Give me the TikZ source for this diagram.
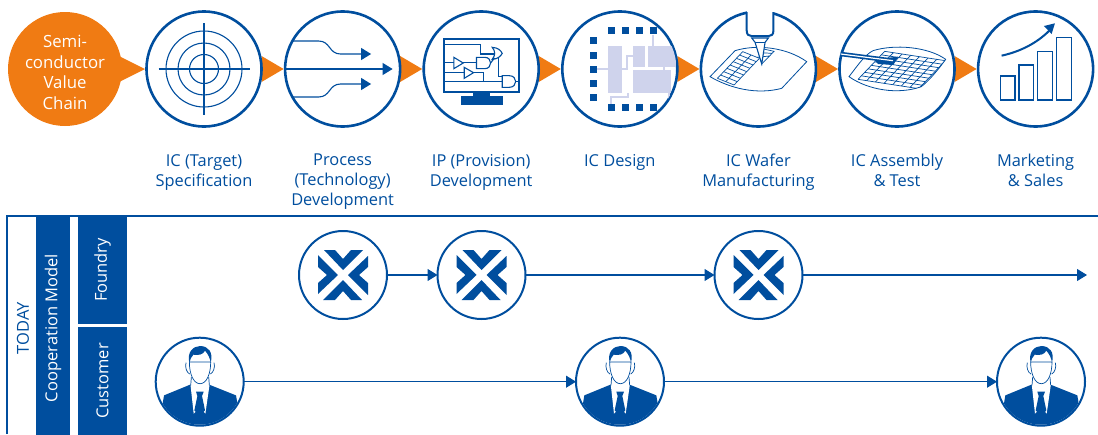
\documentclass[tikz,border=0pt]{standalone}
\usepackage{fontspec}
\setmainfont{Open Sans}
\usetikzlibrary{arrows.meta, backgrounds, positioning}
\definecolor{chainblue}{HTML}{004E9E}
\definecolor{chainorange}{HTML}{F07B13}
\definecolor{chiplight}{HTML}{CFD3EC}
\tikzset{
    stage/.style = {
      circle, draw=chainblue, line width=2.6pt, fill=white, inner sep=0, outer sep=0,
      minimum size=115pt,
    },
    role/.style = {
      circle, draw=chainblue, line width=2pt, fill=white, inner sep=0, outer sep=0,
      minimum size=88pt,
    },
    chevron/.style = {fill=chainorange},
    stage label/.style = {
      text=chainblue, font=\fontsize{16.4}{20}\selectfont, align=center, inner sep=0,
      anchor=north, below=27.5pt,
    },
    band/.style = {
      fill=chainblue, text=white, rotate=90, inner sep=0, outer sep=0,
      font=\fontsize{16.5}{20}\selectfont,
    },
    flow/.style = {line width=1.1pt, draw=chainblue, arrows={-Triangle[length=10pt, width=12pt]}},
    icon line/.style = {line width=1.1pt, draw=chainblue},
    icon fill/.style = {fill=chainblue},
    wafer cell/.style = {line width=.7pt, draw=chainblue},
}
\newcommand{\drawfoundrylogo}[1]{%
  %% Four chevrons pointing at the centre of the node
  \begin{scope}[shift={(#1.center)}]
    \foreach \a in {0,90,180,270}{%
      \fill [icon fill, rotate=\a] (-19,-25) -- (-8,-25) -- (0,-16) -- (8,-25)
        -- (20,-25) -- (0,-5) -- cycle;
    }
  \end{scope}
}
\newcommand{\drawperson}[1]{%
  %% Man in a suit, coordinates taken at three times the size
  \begin{scope}[shift={(#1.center)}, scale=1/3, shift={(-149,-149)}]
    \clip (149,149) circle (129);
    \fill [icon fill] (42,190) -- (120,158) -- (178,158) -- (258,190) -- (275,290) -- (25,290) -- cycle;
    \fill [white] (121,155) -- (131,245) -- (150,225) -- (166,245) -- (179,155) -- cycle;
    \fill [icon fill] (138,179) -- (161,179) -- (156,192) -- (165,235) -- (149,252)
      -- (133,235) -- (142,192) -- cycle;
    \draw [icon line, line width=.7pt] (108,92) .. controls (104,105) and (110,122) .. (119,126);
    \draw [icon line, line width=.7pt] (192,92) .. controls (196,105) and (190,122) .. (181,126);
    \draw [icon line, line width=.7pt] (124,135) -- (122,160) (176,135) -- (178,160);
    \draw [icon line, line width=.7pt, fill=white] (118,90) .. controls (118,125) and (130,155) .. (150,155)
      .. controls (170,155) and (182,125) .. (182,90) -- cycle;
    \fill [icon fill] (118,92) .. controls (110,60) and (130,42) .. (150,42)
      .. controls (175,42) and (190,60) .. (182,92) .. controls (180,78) and (174,66) .. (165,56)
      .. controls (158,68) and (148,70) .. (130,68) .. controls (124,74) and (120,82) .. (118,92) -- cycle;
  \end{scope}
}

\begin{document}
\begin{tikzpicture}[x=1pt, y=-1pt]
    \useasboundingbox (0,0) rectangle (1098,434);

    %% The value chain
    \node [circle, fill=chainorange, minimum size=114pt, inner sep=0, outer sep=0] (chain) at (65,69) {};
    \node [text=white, align=center, inner sep=0, font=\fontsize{16.8}{20.5}\selectfont] (chain text)
          at ([yshift=-3.5pt] chain.center) {Semi-\\conductor\\Value\\Chain};
    \node [stage] (spec) at (204,69) {};
    \node [stage, right=23.6pt of spec] (process) {};
    \node [stage, right=23.6pt of process] (ip) {};
    \node [stage, right=23.6pt of ip] (design) {};
    \node [stage, right=23.6pt of design] (wafer) {};
    \node [stage, right=23.6pt of wafer] (assembly) {};
    \node [stage, right=23.6pt of assembly] (sales) {};

    %% Orange pointers behind the rings
    \begin{pgfonlayer}{background}
      \fill [chevron] ([xshift=-3pt, yshift=13pt] chain.east) -- ([xshift=-3pt, yshift=-13pt] chain.east)
        -- ([xshift=-1.5pt] spec.west) -- cycle;
      \foreach \a/\b in {spec/process, process/ip, ip/design, design/wafer, wafer/assembly, assembly/sales}{%
        \fill [chevron] ([yshift=13pt] \a.east) -- ([yshift=-13pt] \a.east)
          -- ([xshift=-1.5pt] \b.west) -- cycle;
      }
    \end{pgfonlayer}

    \node [stage label] (spec text) at (spec.south) {IC (Target)\\Specification};
    \node [stage label] (process text) at (process.south) {Process\\(Technology)\\Development};
    \node [stage label] (ip text) at (ip.south) {IP (Provision)\\Development};
    \node [stage label] (design text) at (design.south) {IC Design};
    \node [stage label] (wafer text) at (wafer.south) {IC Wafer\\Manufacturing};
    \node [stage label] (assembly text) at (assembly.south) {IC Assembly\\\& Test};
    \node [stage label] (sales text) at (sales.south) {Marketing\\\& Sales};

    %% Target
    \begin{scope}[shift={(spec.center)}]
      \foreach \r in {14.5,26,38}{%
        \draw [icon line] (0,0) circle (\r);
      }
      \draw [icon line] (-45.5,0) -- (45.5,0) (0,-46) -- (0,46);
    \end{scope}

    %% Process flows
    \begin{scope}[shift={(process.center)}]
      \draw [flow] (-57,0) -- (50,0);
      \draw [flow] (-50.5,-28) -- (-24,-28) .. controls (-12,-28) and (-14,-15) .. (-2,-15) -- (28.5,-15);
      \draw [flow] (-50.5,28) -- (-24,28) .. controls (-12,28) and (-14,15) .. (-2,15) -- (28.5,15);
    \end{scope}

    %% Schematic on a monitor
    \begin{scope}[shift={(ip.center)}, scale=1/3, shift={(-154,-117)}]
      \draw [icon line, line width=2pt] (42,28) rectangle (268,186);
      \fill [icon fill] (129,186) rectangle (181,198);
      \fill [icon fill] (92,198) rectangle (218,226);
      \draw [icon line] (42,43) -- (152,43) -- (152,72) -- (192,72);
      \draw [icon line] (187,52) .. controls (205,53) and (213,62) .. (217,70)
        .. controls (213,78) and (205,87) .. (187,88) .. controls (197,76) and (197,64) .. (187,52) -- cycle;
      \draw [icon line] (42,98) -- (72,98) (100,98) -- (140,98);
      \draw [icon line] (72,82) -- (100,99) -- (72,116) -- cycle;
      \draw [icon line] (140,82) -- (165,82) .. controls (188,82) and (188,116) .. (165,116) -- (140,116) -- cycle;
      \draw [icon line] (183,98) -- (194,84);
      \draw [icon line] (42,127) -- (103,127) (131,128) -- (162,128) -- (162,155);
      \draw [icon line] (103,112) -- (131,128) -- (103,145) -- cycle;
      \draw [icon line] (42,155) -- (217,155);
      \draw [icon line] (205,80) -- (205,140) -- (217,140);
      \draw [icon line] (217,137) -- (238,137) .. controls (264,137) and (264,172) .. (238,172) -- (217,172) -- cycle;
      \draw [icon line] (257,155) -- (268,155);
    \end{scope}

    %% Chip floor plan
    \begin{scope}[shift={(design.center)}, scale=1/3, shift={(-149.4,-147)}]
      \begin{scope}
        \clip (149.4,147) circle (170);
        \fill [chiplight] (114,78) rectangle (156,218);
        \fill [chiplight] (189,78) rectangle (225,140);
        \fill [chiplight] (234,78) rectangle (320,140);
        \fill [chiplight] (189,150) rectangle (303,218);
        \draw [chiplight, line width=2pt] (82,148) -- (114,148) (156,148) -- (172,148) -- (172,108) -- (189,108)
          (250,45) -- (250,78) (283,140) -- (283,150) (122,252) -- (122,232) -- (175,232) -- (175,218)
          (296,218) -- (296,255);
      \end{scope}
      \foreach \x in {124,166,208,250}{%
        \fill [icon fill] (\x-11,20) rectangle (\x+11,42);
        \fill [icon fill] (\x-11,251) rectangle (\x+11,273);
      }
      \foreach \y in {62,106,148,190,232}{%
        \fill [icon fill] (59,\y-11) rectangle (81,\y+11);
      }
    \end{scope}

    %% Nozzle over a wafer
    \begin{scope}[shift={(wafer.center)}, scale=1/3, shift={(-175,-177)}]
      \draw [icon line, line width=.8pt] (105,122) .. controls (170,102) and (260,112) .. (320,155) -- (245,235)
        .. controls (170,255) and (90,235) .. (30,200) -- cycle;
      \foreach \i in {0,...,8}{%
        \draw [wafer cell] ({52+9.5*\i},{205-10*\i}) -- ({102+9.5*\i},{225-10*\i});
      }
      \foreach \i in {0,1,2}{%
        \draw [wafer cell] ({52+25*\i},{205+10*\i}) -- ({128+25*\i},{125+10*\i});
      }
      \draw [wafer cell] (185,162) -- (222,124) -- (168,112) (170,142) -- (208,138) (180,128) -- (215,130);
      \fill [white] (140,0) rectangle (220,70);
      \draw [icon line, line width=2pt] (140,6) -- (140,62) .. controls (140,74) and (146,78) .. (154,78)
        -- (206,78) .. controls (214,78) and (220,74) .. (220,62) -- (220,6);
      \draw [icon line, fill=white] (155,84) -- (205,84) -- (195,97) -- (185,162) -- (165,97) -- cycle;
      \draw [icon line] (165,97) -- (195,97);
    \end{scope}

    %% Probe over a diced wafer
    \begin{scope}[shift={(assembly.center)}, scale=1/3, shift={(-177,-117)}]
      \begin{scope}
        \clip (33,140) .. controls (60,105) and (80,75) .. (105,62) .. controls (170,42) and (270,50) .. (323,88)
          .. controls (300,120) and (275,150) .. (250,170) .. controls (180,195) and (90,180) .. (33,140) -- cycle;
        \foreach \i in {0,...,8}{%
          \draw [wafer cell] ({60+10*\i},{148-10.5*\i}) -- ({242+10*\i},{176-10.5*\i});
        }
        \foreach \i in {0,...,7}{%
          \draw [wafer cell] ({60+26*\i},{148+4*\i}) -- ({140+26*\i},{64+4*\i});
        }
      \end{scope}
      \draw [icon line, line width=.8pt] (33,140) .. controls (60,105) and (80,75) .. (105,62) .. controls (170,42) and (270,50) .. (323,88)
        .. controls (300,120) and (275,150) .. (250,170) .. controls (180,195) and (90,180) .. (33,140) -- cycle;
      \fill [icon fill] (108,88) -- (180,80) -- (166,105) -- (120,102) -- cycle;
      \draw [chainblue, line width=4.5pt] (8,72) -- (165,92);
      \draw [white, line width=1.2pt] (8,72) -- (165,92);
    \end{scope}

    %% Growing bars
    \begin{scope}[shift={(sales.center)}, scale=1/3, shift={(-1037,-207)}]
      \draw [icon line, line width=1.2pt] (931,228) rectangle (975,300);
      \draw [icon line, line width=1.2pt] (987,195) rectangle (1031,300);
      \draw [icon line, line width=1.2pt] (1043,155) rectangle (1087,300);
      \draw [icon line, line width=1.2pt] (1100,112) rectangle (1144,300);
      \draw [icon line, line width=2pt] (935,167) .. controls (990,155) and (1040,130) .. (1078,92);
      \fill [icon fill] (1095,70) -- (1062,78) -- (1085,102) -- cycle;
    \end{scope}

    %% The cooperation model
    \coordinate (frame start) at (7,434);
    \coordinate (frame corner) at (7,216);
    \coordinate (frame end) at (1098,216);
    \draw [chainblue, line width=2pt] (frame start) -- (frame corner) -- (frame end);
    \node [text=chainblue, rotate=90, inner sep=0, font=\fontsize{16.5}{18}\selectfont] (today) at (23,328) {TODAY};
    \node [band, minimum width=224pt, minimum height=34pt] (model) at (53,328) {Cooperation Model};
    \node [band, minimum width=108pt, minimum height=49pt] (foundry) at (102.5,270) {Foundry};
    \node [band, minimum width=108pt, minimum height=49pt] (customer) at (102.5,381) {Customer};

    \node [role] (fab1) at (343,275) {};
    \node [role] (fab2) at (481.5,275) {};
    \node [role] (fab3) at (758.5,275) {};
    \coordinate (fab end) at (1087,275);
    \foreach \n in {fab1,fab2,fab3}{%
      \drawfoundrylogo{\n}
    }
    \draw [flow] (fab1) -- (fab2);
    \draw [flow] (fab2) -- (fab3);
    \draw [flow] (fab3) -- (fab end);

    \node [role] (person1) at (199.7,381.7) {};
    \node [role] (person2) at (620,381.7) {};
    \node [role] (person3) at (1041,381.7) {};
    \foreach \n in {person1,person2,person3}{%
      \drawperson{\n}
    }
    \draw [flow] (person1) -- (person2);
    \draw [flow] (person2) -- (person3);
\end{tikzpicture}
\end{document}
